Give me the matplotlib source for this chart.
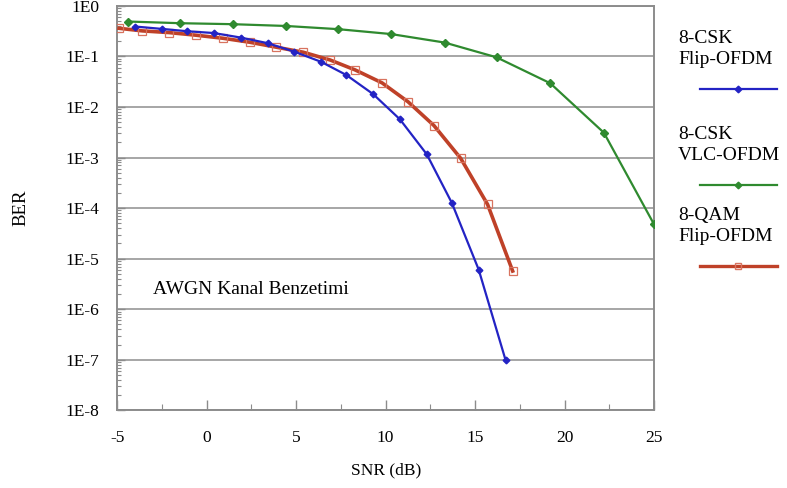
import matplotlib
matplotlib.use("Agg")
import matplotlib.pyplot as plt
from matplotlib.lines import Line2D
from matplotlib.ticker import FixedLocator, LogLocator, MultipleLocator, NullFormatter
import numpy as np

plt.rcParams['font.family'] = ['Liberation Serif', 'DejaVu Serif']
plt.rcParams['axes.unicode_minus'] = False

# ---- data ----
snr_csk_flip = [-4.0, -2.5, -1.1, 0.4, 1.9, 3.4, 4.9, 6.4, 7.8, 9.3, 10.8, 12.3, 13.7, 15.2, 16.7]
ber_csk_flip = [0.39, 0.35, 0.315, 0.29, 0.236, 0.183, 0.124, 0.078, 0.043, 0.018,
                5.7e-3, 1.16e-3, 1.27e-4, 6.1e-6, 1.0e-7]

snr_csk_vlc = [-4.4, -1.5, 1.45, 4.45, 7.35, 10.3, 13.3, 16.2, 19.2, 22.2, 25.0]
ber_csk_vlc = [0.49, 0.454, 0.434, 0.40, 0.346, 0.277, 0.188, 0.096, 0.0295, 3.1e-3, 4.8e-5]

snr_qam_flip = [-4.9, -3.6, -2.1, -0.6, 0.9, 2.4, 3.9, 5.4, 6.9, 8.3, 9.8, 11.25, 12.7, 14.2, 15.7, 17.1]
ber_qam_flip = [0.36, 0.32, 0.296, 0.263, 0.229, 0.191, 0.152, 0.121, 0.085, 0.054,
                0.030, 0.0127, 4.3e-3, 9.6e-4, 1.18e-4, 5.7e-6]

ytick_vals = [1e0, 1e-1, 1e-2, 1e-3, 1e-4, 1e-5, 1e-6, 1e-7, 1e-8]
ytick_labels = ["1E0", "1E-1", "1E-2", "1E-3", "1E-4", "1E-5", "1E-6", "1E-7", "1E-8"]
xtick_vals = [-5, 0, 5, 10, 15, 20, 25]

BLUE = "#2323c4"
GREEN = "#2f8a2f"
RED = "#bf4128"
RED_MK = "#d8735f"
AXC = "#8c8c8c"

fig = plt.figure(figsize=(7.87, 4.88), dpi=100)
ax = fig.add_axes([0.149, 0.159, 0.682, 0.829])

ax.plot(snr_csk_vlc, ber_csk_vlc, color=GREEN, lw=1.6, marker="D", ms=3.8, zorder=3)
ax.plot(snr_qam_flip, ber_qam_flip, color=RED, lw=2.6, marker="s", ms=5.5,
        mfc="none", mec=RED_MK, mew=0.9, zorder=3)
ax.plot(snr_csk_flip, ber_csk_flip, color=BLUE, lw=1.6, marker="D", ms=3.4, zorder=4)

ax.set_yscale("log")
ax.set_xlim(-5, 25)
ax.set_ylim(1e-8, 1)
ax.yaxis.set_major_locator(FixedLocator(ytick_vals))
ax.set_yticklabels(ytick_labels)
ax.yaxis.set_minor_locator(LogLocator(base=10, subs=np.arange(2, 10)))
ax.yaxis.set_minor_formatter(NullFormatter())
ax.set_xticks(xtick_vals)
ax.xaxis.set_minor_locator(MultipleLocator(2.5))

ax.grid(axis="y", which="major", color="#a6a6a6", lw=1.4)
ax.set_axisbelow(True)
for s in ax.spines.values():
    s.set_color(AXC)
    s.set_linewidth(1.4)

ax.tick_params(which="both", direction="in", color=AXC, labelsize=12.5)
ax.tick_params(axis="y", which="major", length=6, width=1, pad=13)
ax.tick_params(axis="y", which="minor", length=3, width=0.8)
ax.tick_params(axis="x", which="major", length=7, width=1, pad=14)
ax.tick_params(axis="x", which="minor", length=4, width=0.8)
ax.tick_params(axis="y", which="both", right=False)

ax.set_xlabel("SNR (dB)", fontsize=12.5, labelpad=12)
ax.set_ylabel("BER", fontsize=13.5, labelpad=26)

ax.text(-3.0, 2.5e-6, "AWGN Kanal Benzetimi", fontsize=14, ha="left", va="center")

# ---- legend drawn at the right side ----
legend_items = [("8-CSK\nFlip-OFDM", BLUE, "D", 3.4, BLUE, 1.6, 39),
                ("8-CSK\nVLC-OFDM", GREEN, "D", 3.4, GREEN, 1.6, 135),
                ("8-QAM\nFlip-OFDM", RED, "s", 5, RED_MK, 2.4, 216)]
W, H = 787.0, 488.0
for lab, col, mk, ms, mec, lw, ytop in legend_items:
    fig.text(678 / W, 1 - (ytop - 9) / H, lab, fontsize=14, ha="left", va="top",
             linespacing=1.3)
    yl = 1 - (ytop + 50) / H
    fig.add_artist(Line2D([700 / W, 777 / W], [yl, yl], color=col, lw=lw))
    fig.add_artist(Line2D([738 / W], [yl], color=col, marker=mk, ms=ms,
                          mfc=("none" if mk == "s" else col), mec=mec, lw=0))

fig.savefig("out.png", dpi=100)
